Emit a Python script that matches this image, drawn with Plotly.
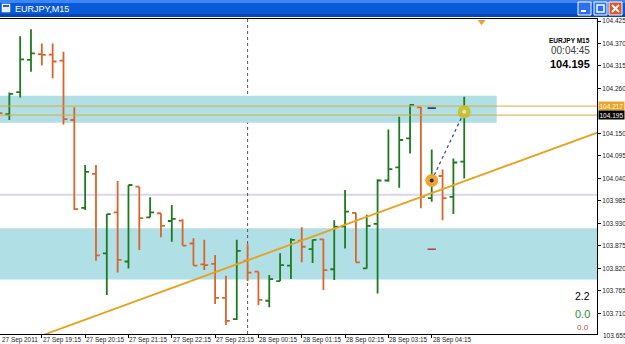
import plotly.graph_objects as go
import pandas as pd

# ---------------- data ----------------
start = pd.Timestamp("2011-09-27 18:15")
opens = [104.217, 104.197, 104.251, 104.330, 104.344, 104.343, 104.328, 104.183, 103.968, 104.051,
         103.857, 103.957, 103.837, 104.020, 103.945, 103.955, 103.936, 103.937, 103.881, 103.830,
         103.831, 103.748, 103.696, 103.839, 103.812, 103.741, 103.789, 103.827, 103.888, 103.867,
         103.891, 103.818, 103.922, 103.956, 103.820, 103.929, 104.035, 104.067, 104.138, 104.214,
         103.992, 104.046, 103.995, 104.081]
highs = [104.222, 104.250, 104.388, 104.405, 104.370, 104.370, 104.350, 104.214, 104.073, 104.073,
         103.953, 104.034, 104.024, 104.020, 103.994, 103.955, 103.975, 103.940, 103.894, 103.890,
         103.853, 103.802, 103.890, 103.879, 103.812, 103.804, 103.857, 103.894, 103.921, 103.890,
         103.892, 103.938, 104.012, 103.956, 103.951, 104.038, 104.160, 104.191, 104.221, 104.215,
         104.111, 104.062, 104.089, 104.240]
lows = [104.188, 104.183, 104.238, 104.301, 104.316, 104.285, 104.172, 103.963, 103.963, 103.839,
        103.755, 103.810, 103.820, 103.865, 103.945, 103.896, 103.885, 103.876, 103.827, 103.816,
        103.733, 103.682, 103.694, 103.789, 103.730, 103.725, 103.789, 103.794, 103.835, 103.833,
        103.767, 103.792, 103.869, 103.835, 103.820, 103.759, 104.032, 104.017, 104.101, 103.967,
        103.983, 103.938, 103.953, 104.040]
closes = [104.200, 104.247, 104.331, 104.346, 104.342, 104.326, 104.185, 103.965, 104.056, 103.852,
          103.953, 103.841, 104.024, 103.943, 103.957, 103.924, 103.941, 103.876, 103.827, 103.828,
          103.748, 103.692, 103.863, 103.810, 103.743, 103.794, 103.828, 103.890, 103.873, 103.890,
          103.816, 103.922, 103.959, 103.835, 103.924, 104.035, 104.063, 104.134, 104.220, 103.995,
          104.036, 103.992, 104.079, 104.195]
times = pd.date_range(start, periods=len(opens), freq="15min")

y_ticks = [104.425, 104.370, 104.315, 104.260, 104.150, 104.095, 104.040, 103.985,
           103.930, 103.875, 103.820, 103.765, 103.710]
y_bottom_label = 103.655
x_label_times = ["2011-09-27 18:15", "2011-09-27 19:15", "2011-09-27 20:15", "2011-09-27 21:15",
                 "2011-09-27 22:15", "2011-09-27 23:15", "2011-09-28 00:15", "2011-09-28 01:15",
                 "2011-09-28 02:15", "2011-09-28 03:15", "2011-09-28 04:15"]
x_label_texts = ["27 Sep 2011", "27 Sep 19:15", "27 Sep 20:15", "27 Sep 21:15", "27 Sep 22:15",
                 "27 Sep 23:15", "28 Sep 00:15", "28 Sep 01:15", "28 Sep 02:15", "28 Sep 03:15",
                 "28 Sep 04:15"]

zone_upper = [104.176, 104.242]
zone_upper_end = "2011-09-28 05:45"
zone_lower = [103.793, 103.918]
level_lines = [104.217, 104.195]
round_level = 104.000
separator_time = "2011-09-28 00:00"
trend_times = ["2011-09-27 19:15", "2011-09-28 08:15"]
trend_prices = [103.656, 104.159]
trade_times = ["2011-09-28 04:15", "2011-09-28 05:00"]
trade_prices = [104.035, 104.203]
order_time = "2011-09-28 04:15"
order_prices = [104.212, 103.867]
order_colors = ["#1c2a6e", "#b0443a"]
arrow_time = "2011-09-28 05:24"
arrow_price = 104.423

# ---------------- geometry helpers (layout only) ----------------
W, H = 625, 344
L, R, T, B = 0, 28, 19, 10
PW, PH = W - L - R, H - T - B
def px(x):
    return (x - L) / PW
def py(y):
    return (H - B - y) / PH

bar = pd.Timedelta(minutes=15)
x_range = [start + bar * 0.1385, start + bar * 55.26]
y_range = [103.6597, 104.4299]

GREEN = "#1e7a1e"
ORANGE = "#d9652b"
GOLD = "#e6a21c"

fig = go.Figure()

fig.add_trace(go.Ohlc(
    x=times, open=opens, high=highs, low=lows, close=closes,
    increasing=dict(line=dict(color=GREEN, width=1.8)),
    decreasing=dict(line=dict(color=ORANGE, width=1.8)),
    tickwidth=0.36, hoverinfo="skip", showlegend=False))

fig.add_trace(go.Scatter(x=pd.to_datetime(trend_times), y=trend_prices, mode="lines",
                         line=dict(color=GOLD, width=1.8), hoverinfo="skip", showlegend=False))

fig.add_trace(go.Scatter(x=pd.to_datetime(trade_times), y=trade_prices, mode="lines",
                         line=dict(color="#33408f", width=1.2, dash="dot"),
                         hoverinfo="skip", showlegend=False))
fig.add_trace(go.Scatter(x=pd.to_datetime(trade_times), y=trade_prices, mode="markers",
                         marker=dict(size=13, color=["#f2a52a", "#c3c43a"], line=dict(width=0)),
                         hoverinfo="skip", showlegend=False))
fig.add_trace(go.Scatter(x=pd.to_datetime(trade_times), y=trade_prices, mode="markers",
                         marker=dict(size=4, color=["#1c2a6e", "#e8e8a0"]),
                         hoverinfo="skip", showlegend=False))
fig.add_trace(go.Scatter(x=[pd.Timestamp(order_time)] * len(order_prices), y=order_prices,
                         mode="markers",
                         marker=dict(symbol="line-ew", size=6,
                                     line=dict(width=1.5, color=order_colors)),
                         hoverinfo="skip", showlegend=False))
fig.add_trace(go.Scatter(x=[pd.Timestamp(arrow_time)], y=[arrow_price], mode="markers",
                         marker=dict(symbol="triangle-down", size=7, color="#f0a030"),
                         cliponaxis=False, hoverinfo="skip", showlegend=False))

shapes = []
# zones
shapes.append(dict(type="rect", xref="x", yref="y", x0=times[0] - bar, x1=pd.Timestamp(zone_upper_end),
                   y0=zone_upper[0], y1=zone_upper[1], fillcolor="#b0dfe5", line=dict(width=0),
                   layer="below"))
shapes.append(dict(type="rect", xref="paper", yref="y", x0=0, x1=1,
                   y0=zone_lower[0], y1=zone_lower[1], fillcolor="#b0dfe5", line=dict(width=0),
                   layer="below"))
# round level
shapes.append(dict(type="line", xref="paper", yref="y", x0=0, x1=1, y0=round_level, y1=round_level,
                   line=dict(color="#d6d6f0", width=2), layer="below"))
# day separator
shapes.append(dict(type="line", xref="x", yref="paper", x0=pd.Timestamp(separator_time),
                   x1=pd.Timestamp(separator_time), y0=0, y1=1,
                   line=dict(color="#555555", width=1, dash="dot"), layer="below"))
# level lines
for lv in level_lines:
    shapes.append(dict(type="line", xref="paper", yref="y", x0=0, x1=1, y0=lv, y1=lv,
                       line=dict(color="#dcaa3c", width=1), layer="above"))

# window chrome: title bar
def prect(x0, y0, x1, y1, fill, line_color=None, lw=0):
    return dict(type="rect", xref="paper", yref="paper", x0=px(x0), x1=px(x1), y0=py(y1), y1=py(y0),
                fillcolor=fill, line=dict(color=line_color or fill, width=lw), layer="above")
def pline(x0, y0, x1, y1, color, lw):
    return dict(type="line", xref="paper", yref="paper", x0=px(x0), x1=px(x1), y0=py(y0), y1=py(y1),
                line=dict(color=color, width=lw), layer="above")

shapes.append(prect(0, 0, 625, 17, "#0a5ad8"))
shapes.append(prect(0, 0, 625, 3, "#3d86f2"))
shapes.append(prect(0, 14, 625, 17, "#0846b8"))
# icon
shapes.append(prect(2, 4, 10, 12, "#e8ecf4", "#ffffff", 0.5))
shapes.append(prect(3, 5, 9, 7, "#2a5ec8"))
# buttons
shapes.append(prect(578, 2, 591, 15, "#2c6ff0", "#ffffff", 1))
shapes.append(prect(581, 10, 586, 12, "#ffffff"))
shapes.append(prect(594, 2, 607, 15, "#2c6ff0", "#ffffff", 1))
shapes.append(prect(597, 5, 604, 12, "rgba(0,0,0,0)", "#ffffff", 1.5))
shapes.append(prect(609, 2, 622, 15, "#e0542c", "#ffffff", 1))
shapes.append(pline(612, 5, 619, 12, "#ffffff", 2))
shapes.append(pline(612, 12, 619, 5, "#ffffff", 2))

annotations = []
FONT = "Liberation Sans, Arial, sans-serif"
annotations.append(dict(xref="paper", yref="paper", x=px(13), y=py(9), xanchor="left", yanchor="middle",
                        text="EURJPY,M15", showarrow=False,
                        font=dict(family=FONT, size=9, color="#ffffff")))
# x labels
for i, (t, txt) in enumerate(zip(x_label_times, x_label_texts)):
    if i == 0:
        annotations.append(dict(xref="paper", yref="paper", x=0, y=py(339.5), xanchor="left",
                                yanchor="middle", text=txt, showarrow=False,
                                font=dict(family=FONT, size=6.4, color="#202020")))
    else:
        annotations.append(dict(xref="x", yref="paper", x=pd.Timestamp(t), y=py(339.5), xanchor="left",
                                yanchor="middle", text=txt, showarrow=False, xshift=-1,
                                font=dict(family=FONT, size=6.4, color="#202020")))
# bottom y label
annotations.append(dict(xref="paper", yref="paper", x=px(601), y=py(335.5), xanchor="left",
                        yanchor="middle", text=f"{y_bottom_label:.3f}", showarrow=False,
                        font=dict(family=FONT, size=6.5, color="#202020")))
# price labels
annotations.append(dict(xref="paper", yref="y", x=px(598), y=level_lines[0], xanchor="left",
                        yanchor="middle", text=f"{level_lines[0]:.3f}", showarrow=False,
                        bgcolor="#e8a530", borderpad=0.5,
                        font=dict(family=FONT, size=6.5, color="#fff6dc")))
annotations.append(dict(xref="paper", yref="y", x=px(598), y=level_lines[1], xanchor="left",
                        yanchor="middle", text=f"{closes[-1]:.3f}", showarrow=False,
                        bgcolor="#000000", borderpad=0.5,
                        font=dict(family=FONT, size=6.5, color="#ffffff")))
# info block
annotations.append(dict(xref="paper", yref="paper", x=px(592), y=py(40), xanchor="right",
                        yanchor="middle", text="<b>EURJPY M15</b>", showarrow=False,
                        font=dict(family=FONT, size=6.5, color="#000000")))
annotations.append(dict(xref="paper", yref="paper", x=px(592), y=py(51), xanchor="right",
                        yanchor="middle", text="00:04:45", showarrow=False,
                        font=dict(family=FONT, size=10, color="#404040")))
annotations.append(dict(xref="paper", yref="paper", x=px(592), y=py(64), xanchor="right",
                        yanchor="middle", text=f"<b>{closes[-1]:.3f}</b>", showarrow=False,
                        font=dict(family=FONT, size=11, color="#000000")))
annotations.append(dict(xref="paper", yref="paper", x=px(592), y=py(296), xanchor="right",
                        yanchor="middle", text="2.2", showarrow=False,
                        font=dict(family=FONT, size=10.5, color="#000000")))
annotations.append(dict(xref="paper", yref="paper", x=px(592), y=py(314), xanchor="right",
                        yanchor="middle", text="0.0", showarrow=False,
                        font=dict(family=FONT, size=11, color="#2e8b2e")))
annotations.append(dict(xref="paper", yref="paper", x=px(591), y=py(327), xanchor="right",
                        yanchor="middle", text="0.0", showarrow=False,
                        font=dict(family=FONT, size=8, color="#b04a4a")))

fig.update_layout(
    template="none",
    width=W, height=H,
    margin=dict(l=L, r=R, t=T, b=B, pad=0),
    paper_bgcolor="#ffffff", plot_bgcolor="#ffffff",
    showlegend=False,
    shapes=shapes,
    annotations=annotations,
    xaxis=dict(range=x_range, rangeslider=dict(visible=False), showgrid=False, zeroline=False,
               showline=True, mirror=True, linecolor="#000000", linewidth=1,
               tickvals=pd.to_datetime(x_label_times[1:]), ticks="outside", ticklen=3,
               tickcolor="#000000", showticklabels=False, automargin=False, fixedrange=True),
    yaxis=dict(range=y_range, side="right", showgrid=False, zeroline=False,
               showline=True, mirror=True, linecolor="#000000", linewidth=1,
               tickvals=y_ticks, ticktext=[f"{v:.3f}" for v in y_ticks],
               ticks="outside", ticklen=3, tickcolor="#000000",
               tickfont=dict(family=FONT, size=6.5, color="#202020"),
               automargin=False, fixedrange=True),
)

fig.write_html("out.html")
